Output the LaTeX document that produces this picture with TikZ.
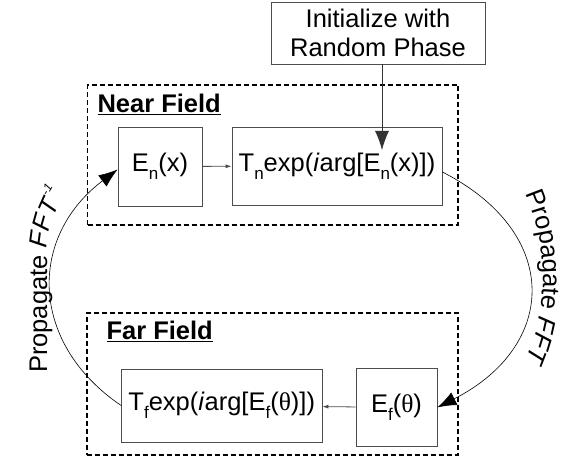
\documentclass[tikz,border=0pt]{standalone}
\usepackage{fontspec}
\setmainfont{Liberation Sans}
\newfontfamily\thetafont{Liberation Serif}
\usetikzlibrary{arrows.meta,decorations.text}
\newcommand{\lowsub}[1]{\raisebox{-0.3em}{\fontsize{17}{17}\selectfont #1}}
\newcommand{\bigfont}{\fontsize{25.5}{29}\selectfont}

\begin{document}
\begin{tikzpicture}[x=1pt,y=1pt,
  box/.style={draw=black!70,line width=0.8pt,inner sep=0pt,font=\bigfont,align=center},
  field/.style={draw,line width=1.1pt,dash pattern=on 5pt off 3pt},
  bigtip/.style={-{Latex[length=19pt,width=14pt]}},
  smalltip/.style={-{Latex[length=6pt,width=4pt]},black!70,line width=0.8pt},
  cycle line/.style={line width=0.6pt}]
\useasboundingbox (0,0) rectangle (568,463);

\node[field,minimum width=370.5pt,minimum height=140pt] (near) at (272.75,308) {};
\node[field,minimum width=371pt,minimum height=142pt] (far) at (272.5,79) {};

\node[anchor=base west,font=\bigfont\bfseries] (nearlbl) at (94,350) {\underline{Near Field}};
\node[anchor=base west,font=\bigfont\bfseries] (farlbl) at (103,123) {\underline{Far Field}};

\node[box,minimum width=214pt,minimum height=62pt] (init) at (378,430) {Initialize with\\Random Phase};
\node[box,minimum width=84pt,minimum height=79pt] (en) at (160,296.5) {E\lowsub{n}(x)};
\node[box,minimum width=210pt,minimum height=78pt] (tn) at (337,297) {T\lowsub{n}exp(\textit{i}arg[E\lowsub{n}(x)])};
\node[box,minimum width=200.5pt,minimum height=73pt] (tf) at (221.75,57.5) {T\lowsub{f}exp(\textit{i}arg[E\lowsub{f}({\thetafont θ})])};
\node[box,minimum width=81pt,minimum height=78.7pt] (ef) at (396.5,55.6) {E\lowsub{f}({\thetafont θ})};

\coordinate (seed) at (382,313);
\draw[bigtip,line width=0.8pt,black!80] (init.south -| seed) -- (seed);
\draw[smalltip] (en) -- (tn);
\draw[smalltip] (ef) -- (tf);

\draw[cycle line,bigtip] ([yshift=-6pt]tn.east) .. controls (562,230) and (558,117) .. (ef.east);
\draw[cycle line,bigtip] (tf.west) .. controls (29,120) and (28,226) .. ([yshift=-3pt]en.west);

\path[decorate,decoration={text along path,text align=left,
  text={|\bigfont|Propagate |\bigfont\itshape|FFT{\raisebox{0.55em}{\fontsize{12}{12}\selectfont -1}}}}]
  (47,90) -- (47,208) arc[start angle=180,end angle=135,radius=110];
\path[decorate,decoration={text along path,text align=center,
  text={|\bigfont|Propagate |\bigfont\itshape|FFT}}]
  ([shift={(40:253 and 230)}]290,186) arc[start angle=40,end angle=-40,x radius=253,y radius=230];
\end{tikzpicture}
\end{document}
